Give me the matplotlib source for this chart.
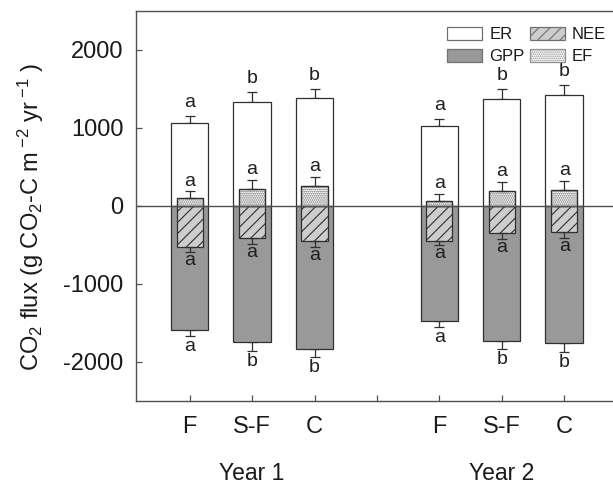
import matplotlib
matplotlib.use("Agg")
import matplotlib.pyplot as plt
import matplotlib.transforms as mtransforms
from matplotlib.patches import Patch
import numpy as np

plt.rcParams['font.family'] = ['Liberation Sans', 'DejaVu Sans']
plt.rcParams['mathtext.default'] = 'regular'
plt.rcParams['axes.unicode_minus'] = False
plt.rcParams['hatch.linewidth'] = 0.8

# Treatments within each year and bar positions
treatments = ["F", "S-F", "C", "F", "S-F", "C"]
positions = [1, 2, 3, 5, 6, 7]
years = ["Year 1", "Year 2"]
year_centers = [2, 6]

# Annual fluxes (g CO2-C m-2 yr-1) and standard errors
er = [1060, 1330, 1375, 1025, 1370, 1420]
er_se = [90, 125, 120, 88, 120, 122]
gpp = [-1595, -1745, -1835, -1480, -1730, -1765]
gpp_se = [75, 112, 110, 76, 112, 108]
nee = [-535, -410, -455, -455, -350, -338]
nee_se = [55, 82, 80, 50, 76, 80]
ef = [95, 213, 248, 65, 190, 200]
ef_se = [90, 122, 120, 85, 118, 120]

# Significance letters
er_letters = ["a", "b", "b", "a", "b", "b"]
ef_letters = ["a", "a", "a", "a", "a", "a"]
nee_letters = ["a", "a", "a", "a", "a", "a"]
gpp_letters = ["a", "b", "b", "a", "b", "b"]

fig = plt.figure(figsize=(6.13, 4.84), dpi=100)
ax = fig.add_axes([0.2219, 0.1721, 0.790, 0.8058])

edge = "#303030"
wide = 0.6
narrow = 0.42
x = np.array(positions, dtype=float)

ax.bar(x, er, width=wide, color="white", edgecolor=edge, linewidth=0.9, zorder=2)
ax.bar(x, gpp, width=wide, color="#999999", edgecolor=edge, linewidth=0.9, zorder=2)
ax.bar(x, nee, width=narrow, color="#cdcdcd", edgecolor=edge, linewidth=0.9,
       hatch="///", zorder=3)
ax.bar(x, ef, width=narrow, color="white", edgecolor="#666666", linewidth=0.9,
       hatch="........", zorder=3)
# EF outline in the dark edge colour
ax.bar(x, ef, width=narrow, color="none", edgecolor=edge, linewidth=0.9, zorder=3.5)

ebkw = dict(fmt="none", ecolor=edge, elinewidth=0.9, capsize=3.6, capthick=0.9)
ax.errorbar(x, er, yerr=[np.zeros(6), er_se], zorder=1.5, **ebkw)
ax.errorbar(x, gpp, yerr=[gpp_se, np.zeros(6)], zorder=1.5, **ebkw)
ax.errorbar(x, ef, yerr=[np.zeros(6), ef_se], zorder=3.6, **ebkw)
ax.errorbar(x, nee, yerr=[nee_se, np.zeros(6)], zorder=3.6, **ebkw)

ax.axhline(0, color="#505050", linewidth=1.0, zorder=5)

lfs = 14
for xi, v, s, t in zip(x, er, er_se, er_letters):
    ax.annotate(t, (xi, v + s), xytext=(0, 6.5), textcoords="offset points",
                ha="center", va="baseline", fontsize=lfs, color="#202020")
for xi, v, s, t in zip(x, ef, ef_se, ef_letters):
    ax.annotate(t, (xi, v + s), xytext=(0, 4), textcoords="offset points",
                ha="center", va="baseline", fontsize=lfs, color="#202020", zorder=6)
for xi, v, s, t in zip(x, nee, nee_se, nee_letters):
    ax.annotate(t, (xi, v - s), xytext=(0, 0), textcoords="offset points",
                ha="center", va="top", fontsize=lfs, color="#202020", zorder=6)
for xi, v, s, t in zip(x, gpp, gpp_se, gpp_letters):
    ax.annotate(t, (xi, v - s), xytext=(0, -1.5), textcoords="offset points",
                ha="center", va="top", fontsize=lfs, color="#202020")

ax.set_xlim(0.14, 7.9)
ax.set_ylim(-2500, 2500)
ax.set_yticks([-2000, -1000, 0, 1000, 2000])
ax.set_xticks(positions + [4])
ax.set_xticklabels(treatments + [""])

for side in ["left", "bottom", "top", "right"]:
    ax.spines[side].set_color("#505050")
    ax.spines[side].set_linewidth(1.0)

ax.tick_params(axis="both", direction="in", length=4, width=0.9, color="#505050",
               labelsize=17, labelcolor="#1a1a1a")
ax.tick_params(axis="y", pad=9)
ax.tick_params(axis="x", pad=11)

ax.set_ylabel(r"CO$_2$ flux (g CO$_2$-C m$\,^{-2}$ yr$\,^{-1}$ )", fontsize=17,
              color="#1a1a1a")
ax.yaxis.set_label_coords(-0.186, 0.47)

trans = mtransforms.blended_transform_factory(ax.transData, ax.transAxes)
for xc, yr in zip(year_centers, years):
    ax.text(xc, -0.203, yr, transform=trans, ha="center", va="baseline",
            fontsize=16.5, color="#1a1a1a")

handles = [
    Patch(facecolor="white", edgecolor="#707070", linewidth=0.9, label="ER"),
    Patch(facecolor="#999999", edgecolor="#707070", linewidth=0.9, label="GPP"),
    Patch(facecolor="#cdcdcd", edgecolor="#707070", linewidth=0.9, hatch="///", label="NEE"),
    Patch(facecolor="white", edgecolor="#909090", linewidth=0.9, hatch="........", label="EF"),
]
leg = ax.legend(handles=handles, ncol=2, loc="upper right",
                bbox_to_anchor=(0.985, 0.975), frameon=False, fontsize=12,
                handlelength=2.1, handleheight=0.8, handletextpad=0.45,
                columnspacing=0.3, labelspacing=0.4, borderaxespad=0)
for t in leg.get_texts():
    t.set_color("#1a1a1a")

fig.savefig("out.png", dpi=100, facecolor="white")
